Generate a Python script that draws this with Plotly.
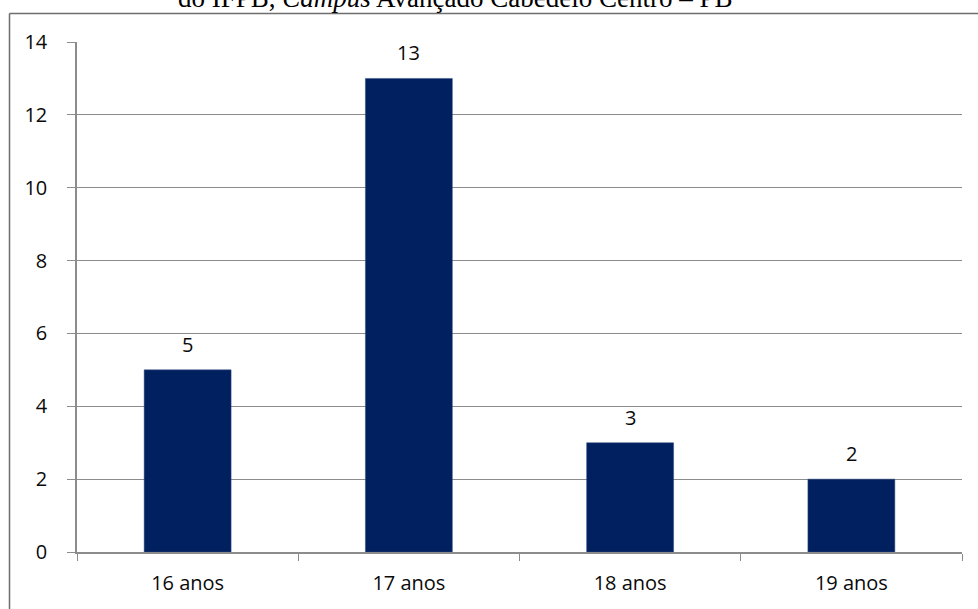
import plotly.graph_objects as go

categories = ["16 anos", "17 anos", "18 anos", "19 anos"]
values = [5, 13, 3, 2]
y_ticks = [0, 2, 4, 6, 8, 10, 12, 14]

W, H = 978, 609
L, R, T, B = 77, 16, 42, 57
pw, ph = W - L - R, H - T - B

def px_x(x):
    return (x - L) / pw

def px_y(y):
    return 1 - (y - T) / ph

FONT = "Open Sans, sans-serif"
TXT = "#0a0a0a"

fig = go.Figure()
fig.add_trace(go.Bar(
    x=categories, y=values,
    marker=dict(color="#002060", line=dict(color="#3a4f80", width=0.5)),
))

for c, v in zip(categories, values):
    fig.add_annotation(x=c, y=v, text=str(v), showarrow=False,
                       xanchor="center", yanchor="bottom", yshift=10,
                       font=dict(family=FONT, size=20, color=TXT))

fig.update_layout(
    width=W, height=H,
    margin=dict(l=L, r=R, t=T, b=B),
    paper_bgcolor="white", plot_bgcolor="white",
    bargap=0.607,
    showlegend=False,
    font=dict(family=FONT, size=20, color=TXT),
    xaxis=dict(
        showline=True, linecolor="#8c8c8c", linewidth=1.5,
        ticks="outside", tickson="boundaries", ticklen=7, tickcolor="#8c8c8c",
        tickfont=dict(family=FONT, size=20, color=TXT), showgrid=False,
        ticklabelstandoff=12,
    ),
    yaxis=dict(
        range=[0, 14], tickvals=y_ticks,
        showline=True, linecolor="#8c8c8c", linewidth=1.5,
        ticks="outside", ticklen=8, tickcolor="#8c8c8c",
        showgrid=True, gridcolor="#8c8c8c", gridwidth=1,
        tickfont=dict(family=FONT, size=20, color=TXT), zeroline=False,
        ticklabelstandoff=16,
    ),
)

# outer frame lines (top and left)
fig.add_shape(type="line", xref="paper", yref="paper",
              x0=px_x(9.5), x1=px_x(980), y0=px_y(13.5), y1=px_y(13.5),
              line=dict(color="#6e6e6e", width=1.5))
fig.add_shape(type="line", xref="paper", yref="paper",
              x0=px_x(9.5), x1=px_x(9.5), y0=px_y(13.5), y1=px_y(612),
              line=dict(color="#6e6e6e", width=1.5))

# cut-off title text
fig.add_annotation(
    xref="paper", yref="paper", x=px_x(455), y=px_y(15),
    xanchor="center", yanchor="bottom", showarrow=False,
    text="do IFPB, <i>Campus</i> Avançado Cabedelo Centro – PB",
    font=dict(family="Liberation Serif, serif", size=27, color="black"),
)

fig.write_html("out.html")
